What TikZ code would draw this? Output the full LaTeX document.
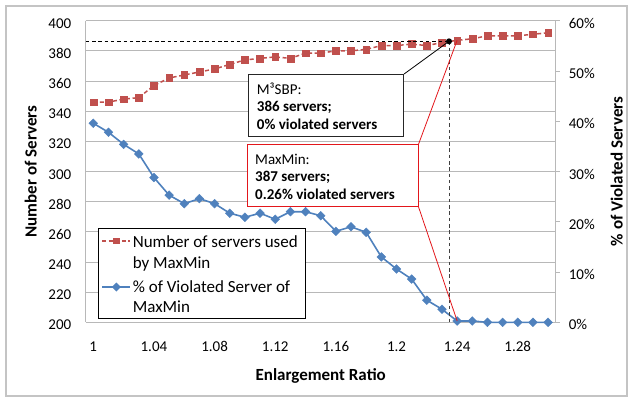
\documentclass[tikz,border=0pt]{standalone}
\usepackage{fontspec}
\setmainfont{Carlito}
\usetikzlibrary{plotmarks}
\definecolor{serverred}{HTML}{C0504D}
\definecolor{violblue}{HTML}{4F81BD}
\definecolor{gridgray}{HTML}{B8B8B8}
\definecolor{framegray}{HTML}{C4C4C4}
\definecolor{calloutred}{HTML}{E3161B}
\begin{document}
\begin{tikzpicture}[x=1pt,y=-1pt,
  ticklabel/.style={font=\fontsize{15}{18}\selectfont, inner sep=0pt},
  axtitle/.style={font=\fontsize{17}{20}\selectfont\bfseries, inner sep=0pt},
  legtext/.style={font=\fontsize{17}{20}\selectfont, inner sep=0pt, anchor=base west},
  calltext/.style={font=\fontsize{15}{18}\selectfont, inner sep=0pt, anchor=base west},
  gridline/.style={draw=gridgray, line width=0.9pt},
  boxstyle/.style={fill=white, line width=0.8pt, inner sep=0pt, anchor=north west},
  redseries/.style={serverred, line width=1.5pt, dash pattern=on 4pt off 2.6pt},
  redmark/.style={mark=square*, mark size=3.4pt, mark options={solid, line width=0.4pt, fill=serverred}},
  blueseries/.style={violblue, line width=1.6pt},
  bluemark/.style={mark=square*, mark size=3.1pt, mark options={rotate=45, line width=0.4pt, fill=violblue}},
  refline/.style={line width=0.9pt, dash pattern=on 3.5pt off 2.8pt}]

\useasboundingbox (0,0) rectangle (633,399);

% chart frame
\draw[framegray, line width=1.3pt] (6,6) rectangle (627,396);

% plot area corners
\coordinate (pTL) at (85.7,20.7);
\coordinate (pBL) at (85.7,322.3);
\coordinate (pTR) at (555.7,20.7);
\coordinate (pBR) at (555.7,322.3);

% horizontal gridlines and left tick labels (200 .. 400)
\foreach \v in {200,220,...,400}{
  \pgfmathsetmacro\yy{322.3-(\v-200)*1.508}
  \draw[gridline] (85.7,\yy) -- (555.7,\yy);
  \node[ticklabel, anchor=base east] at (71.5,\yy+7.6) {\v};
}
% axis lines
\draw[gridline] (pTL) -- (pBL);
\draw[gridline] (pTR) -- (pBR);
% right axis ticks and labels (0% .. 60%)
\foreach \p in {0,10,...,60}{
  \pgfmathsetmacro\yy{322.3-\p*5.027}
  \draw[gridline] (555.7,\yy) -- (559.8,\yy);
  \node[ticklabel, anchor=base west] at (568.6,\yy+7.6) {\p\%};
}
% category labels
\foreach \i/\t in {0/1,4/1.04,8/1.08,12/1.12,16/1.16,20/1.2,24/1.24,28/1.28}{
  \node[ticklabel, anchor=base] at ({93.3+15.16*\i},351.7) {\t};
}

% axis titles
\node[axtitle, anchor=base] (xtitle) at (320.7,380) {Enlargement Ratio};
\node[axtitle, rotate=90, anchor=base] (yltitle) at (36.7,171.5) {Number of Servers};
\node[axtitle, rotate=90, anchor=base] (yrtitle) at (622.7,171.5) {\% of Violated Servers};

% number of servers used by MaxMin (left axis)
\begin{scope}[shift={(93.3,623.9)}, x=15.16pt, y=1.508pt]
  \draw[redseries, redmark] plot coordinates {
    (0,346) (1,346) (2,348) (3,349) (4,357) (5,362) (6,364) (7,366)
    (8,368) (9,371) (10,374) (11,375) (12,376) (13,375) (14,378.5) (15,378.5)
    (16,380) (17,380) (18,381) (19,383.5) (20,383.5) (21,384.5) (22,383.5)
    (23,385.5) (24,387) (25,388) (26,390) (27,390) (28,390) (29,391) (30,392)};
  \coordinate (r24) at (24,387);
\end{scope}

% percentage of violated servers of MaxMin (right axis)
\begin{scope}[shift={(93.3,322.3)}, x=15.16pt, y=5.027pt]
  \draw[blueseries, bluemark] plot coordinates {
    (0,39.6) (1,37.8) (2,35.4) (3,33.5) (4,28.8) (5,25.3) (6,23.6) (7,24.6)
    (8,23.6) (9,21.7) (10,20.9) (11,21.7) (12,20.5) (13,22.0) (14,22.0)
    (15,21.2) (16,18.1) (17,19.0) (18,17.9) (19,13.0) (20,10.6) (21,8.6)
    (22,4.4) (23,2.6) (24,0.26) (25,0.26) (26,0) (27,0) (28,0) (29,0) (30,0)};
  \coordinate (b24) at (24,0.26);
\end{scope}

% M3SBP reference point with guide lines
\coordinate (mdot) at (449,41.3);
\coordinate (mleft) at (85.7,41.3);
\coordinate (mfoot) at (449,322.3);
\draw[refline, black] (mleft) -- (mdot);
\draw[refline, black!75] (mdot) -- (mfoot);
\fill[black] (mdot) circle (3pt);

% M3SBP callout
\node[boxstyle, draw=black!85, minimum width=155pt, minimum height=62pt] (mbox) at (248.3,74) {};
\draw[black, line width=0.8pt] (mbox.north east) -- (mdot);
\node[calltext] (m1) at (256.7,94) {M³SBP:};
\node[calltext] (m2) at (256.7,111.5) {\bfseries 386 servers;};
\node[calltext] (m3) at (256.7,129) {\bfseries 0\% violated servers};

% MaxMin callout
\node[boxstyle, draw=calloutred, minimum width=171pt, minimum height=61.7pt] (xbox) at (246.7,144.3) {};
\draw[calloutred, line width=0.8pt] (xbox.north east) -- (r24);
\draw[calloutred, line width=0.8pt] (xbox.south east) -- (b24);
\node[calltext] (x1) at (255,164) {MaxMin:};
\node[calltext] (x2) at (255,181.5) {\bfseries 387 servers;};
\node[calltext] (x3) at (255,199) {\bfseries 0.26\% violated servers};

% legend
\node[boxstyle, draw=black, minimum width=207pt, minimum height=89.4pt] (legend) at (98,228.3) {};
\coordinate (la1) at (102,241);
\coordinate (lb1) at (130,241);
\coordinate (la2) at (102,287);
\coordinate (lb2) at (130,287);
\draw[redseries] (la1) -- (lb1);
\fill[serverred] (116.3,241) +(-3.4,-3.4) rectangle +(3.4,3.4);
\draw[blueseries] (la2) -- (lb2);
\fill[violblue] (116.3,282.5) -- (120.8,287) -- (116.3,291.5) -- (111.8,287) -- cycle;
\node[legtext] (l1) at (132.6,247.6) {Number of servers used};
\node[legtext] (l2) at (132.6,268) {by MaxMin};
\node[legtext] (l3) at (132.6,292.3) {\% of Violated Server of};
\node[legtext] (l4) at (132.6,312.7) {MaxMin};
\end{tikzpicture}
\end{document}
